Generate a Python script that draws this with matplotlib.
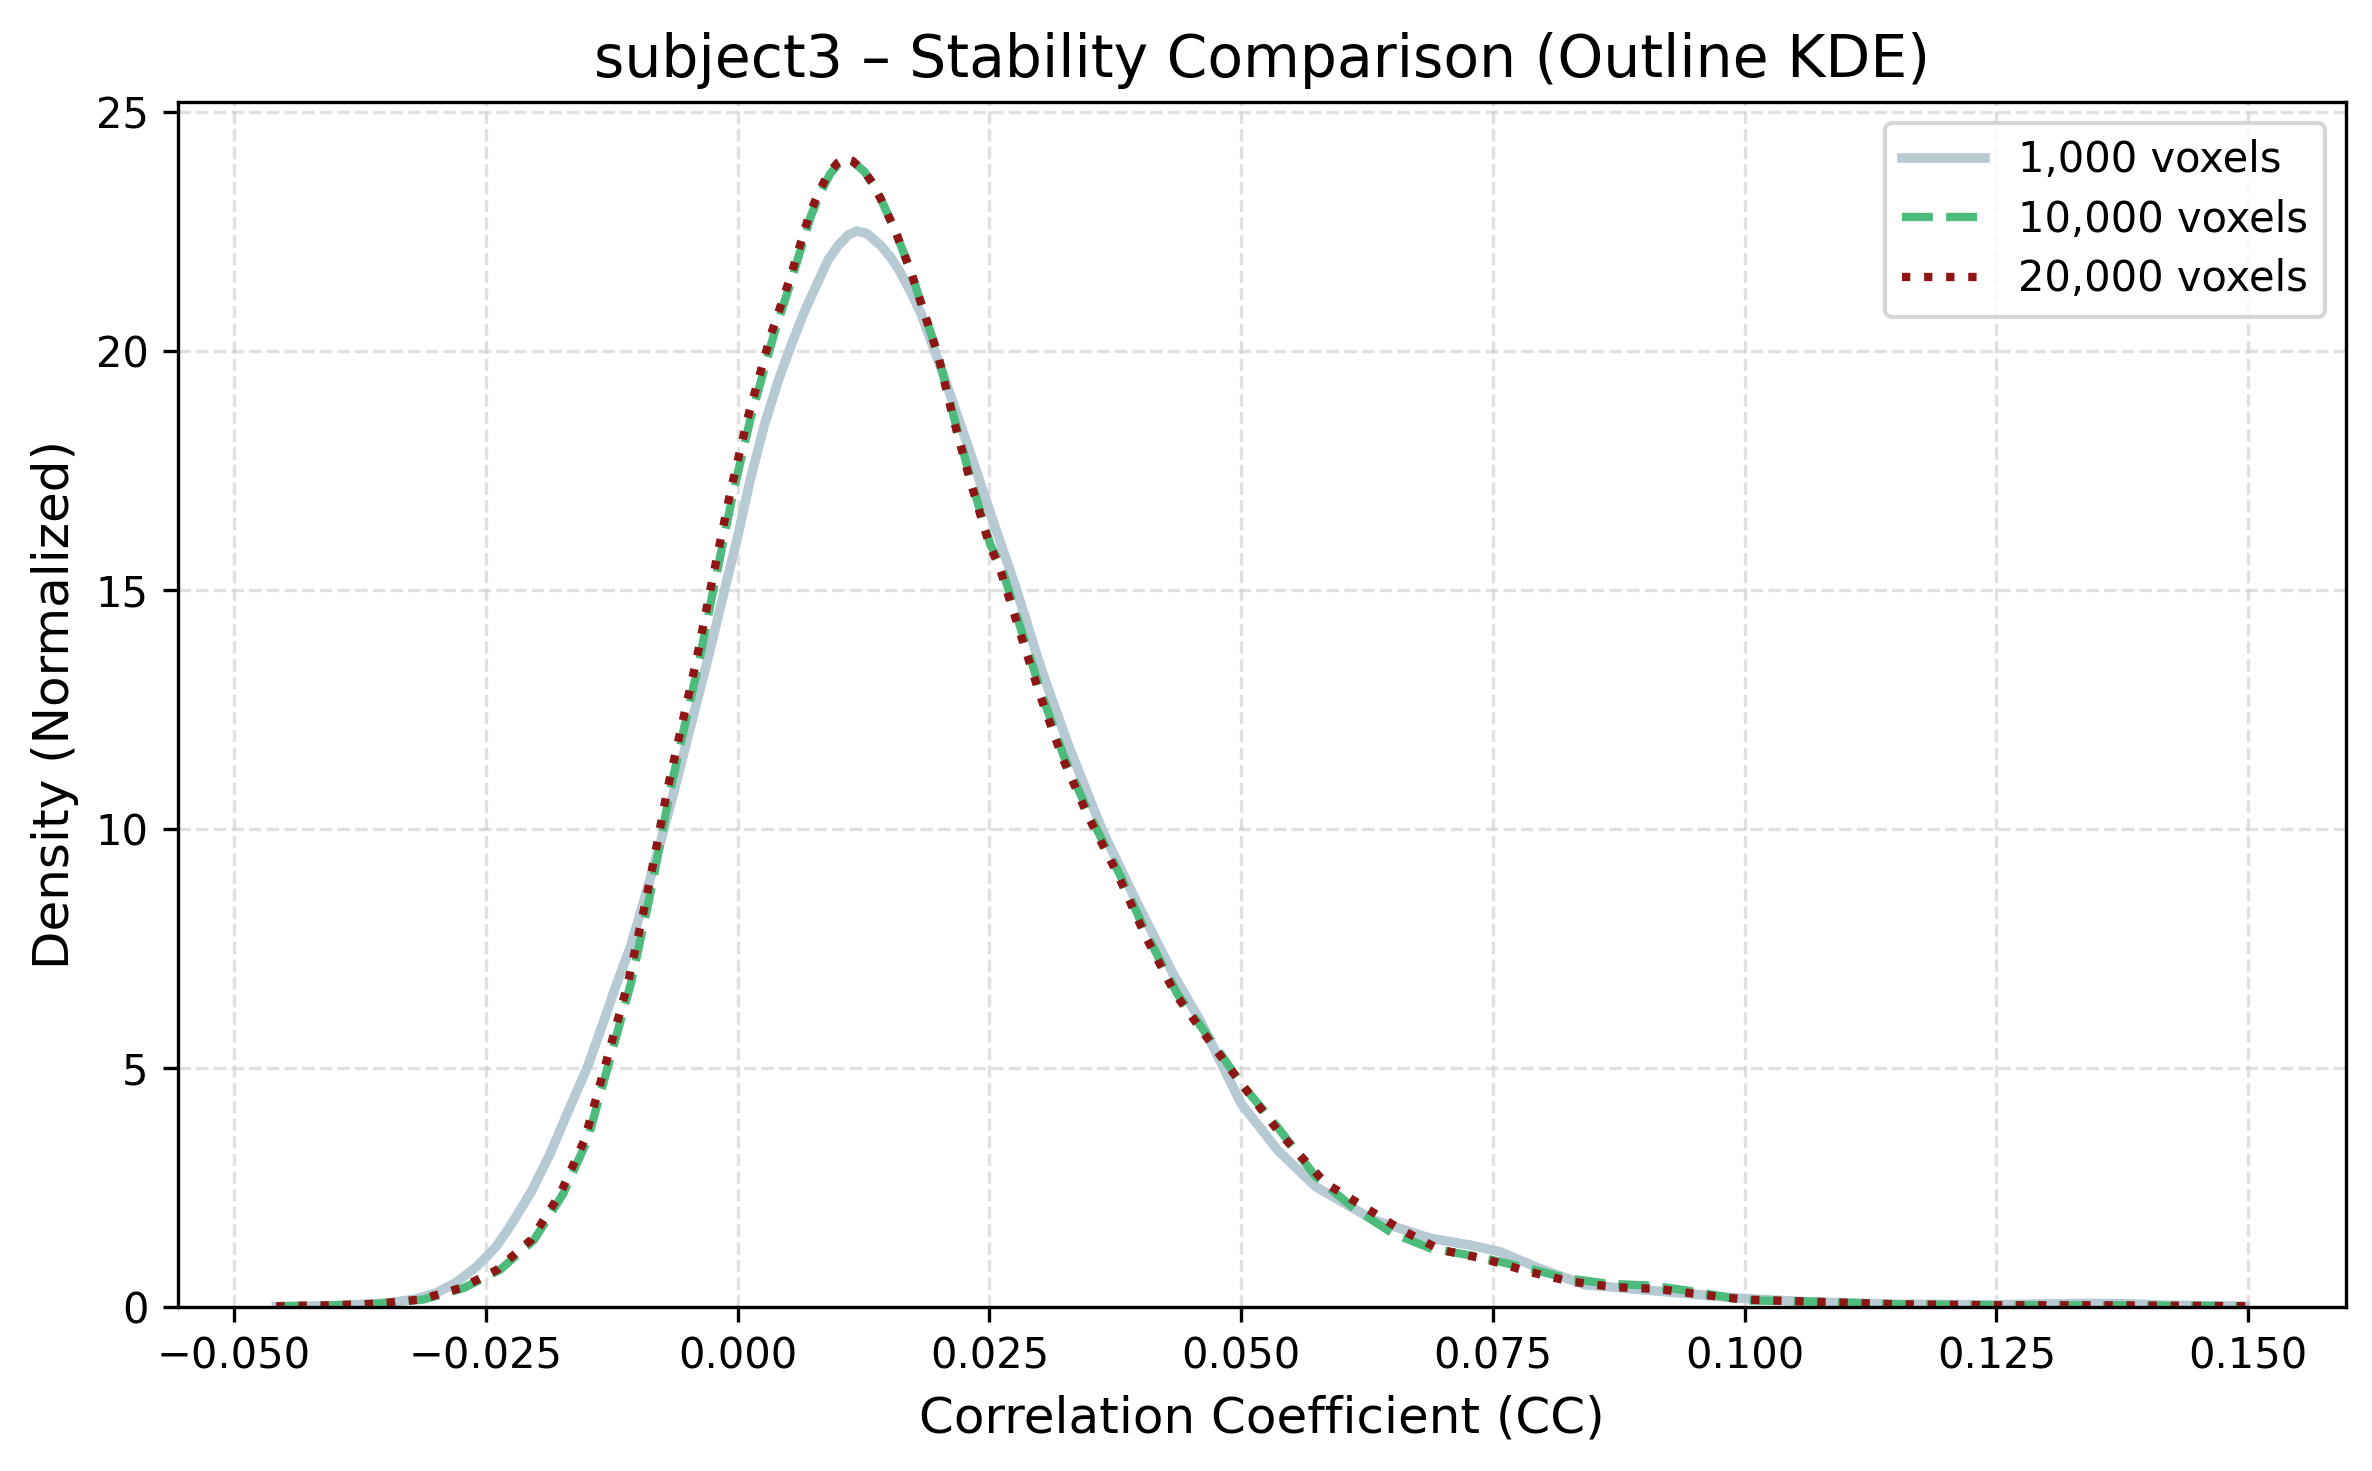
import numpy as np
import matplotlib
matplotlib.use("Agg")
import matplotlib.pyplot as plt

# densidade KDE (x = CC, y = densidade)
cc_1k = [-0.0458, -0.0400, -0.0345, -0.0320, -0.0299, -0.0280, -0.0259, -0.0240, -0.0226, -0.0205,
         -0.0186, -0.0168, -0.0149, -0.0135, -0.0120, -0.0106, -0.0093, -0.0077, -0.0063, -0.0047,
         -0.0030, -0.0014, 0.0000, 0.0012, 0.0026, 0.0040, 0.0053, 0.0066, 0.0079, 0.0090,
         0.0100, 0.0110, 0.0118, 0.0128, 0.0142, 0.0152, 0.0162, 0.0172, 0.0182, 0.0205,
         0.0228, 0.0255, 0.0277, 0.0301, 0.0328, 0.0362, 0.0397, 0.0434, 0.0460, 0.0480,
         0.0500, 0.0536, 0.0574, 0.0631, 0.0688, 0.0727, 0.0757, 0.0795, 0.0841, 0.0917,
         0.0993, 0.1054, 0.1150, 0.1250, 0.1300, 0.1340, 0.1380, 0.1420, 0.1497]
dens_1k = [0.00, 0.02, 0.08, 0.16, 0.29, 0.50, 0.84, 1.25, 1.68, 2.40,
           3.21, 4.10, 5.02, 5.85, 6.76, 7.55, 8.50, 9.68, 10.79, 12.11,
           13.51, 14.90, 16.10, 17.25, 18.40, 19.35, 20.10, 20.80, 21.40, 21.90,
           22.20, 22.42, 22.50, 22.45, 22.20, 21.95, 21.62, 21.22, 20.78, 19.45,
           18.05, 16.35, 15.00, 13.37, 11.77, 9.97, 8.43, 6.90, 5.96, 5.10,
           4.25, 3.28, 2.51, 1.82, 1.43, 1.29, 1.15, 0.81, 0.46, 0.32,
           0.18, 0.11, 0.05, 0.04, 0.06, 0.07, 0.06, 0.03, 0.01]

cc_10k = [-0.0458, -0.0400, -0.0358, -0.0312, -0.0272, -0.0236, -0.0202, -0.0173, -0.0149, -0.0126,
          -0.0106, -0.0088, -0.0077, -0.0067, -0.0053, -0.0038, -0.0025, -0.0004, 0.0013, 0.0036,
          0.0054, 0.0073, 0.0083, 0.0092, 0.0100, 0.0107, 0.0114, 0.0126, 0.0134, 0.0142,
          0.0157, 0.0172, 0.0185, 0.0199, 0.0215, 0.0232, 0.0251, 0.0262, 0.0282, 0.0302,
          0.0324, 0.0350, 0.0380, 0.0407, 0.0437, 0.0476, 0.0500, 0.0536, 0.0574, 0.0612,
          0.0650, 0.0688, 0.0734, 0.0784, 0.0822, 0.0864, 0.0909, 0.0955, 0.1000, 0.1047,
          0.1150, 0.1250, 0.1350, 0.1497]
dens_10k = [0.01, 0.03, 0.06, 0.15, 0.39, 0.77, 1.40, 2.37, 3.49, 5.23,
            6.76, 8.50, 9.68, 10.79, 12.11, 13.51, 14.90, 17.06, 18.59, 20.33,
            21.51, 22.83, 23.33, 23.70, 23.90, 24.00, 23.96, 23.74, 23.50, 23.18,
            22.48, 21.65, 20.81, 19.91, 18.59, 17.27, 15.94, 15.47, 14.13, 12.81,
            11.51, 10.26, 9.02, 7.75, 6.53, 5.40, 4.67, 3.76, 2.72, 2.06,
            1.54, 1.22, 1.05, 0.81, 0.60, 0.48, 0.44, 0.30, 0.13, 0.12,
            0.05, 0.03, 0.03, 0.01]

cc_20k = [-0.0458, -0.0400, -0.0360, -0.0315, -0.0275, -0.0239, -0.0205, -0.0176, -0.0152, -0.0129,
          -0.0109, -0.0091, -0.0080, -0.0070, -0.0056, -0.0041, -0.0028, -0.0007, 0.0010, 0.0033,
          0.0052, 0.0071, 0.0081, 0.0090, 0.0099, 0.0107, 0.0114, 0.0126, 0.0134, 0.0142,
          0.0157, 0.0172, 0.0185, 0.0199, 0.0214, 0.0231, 0.0250, 0.0260, 0.0280, 0.0300,
          0.0322, 0.0348, 0.0378, 0.0405, 0.0435, 0.0474, 0.0500, 0.0540, 0.0584, 0.0622,
          0.0658, 0.0698, 0.0742, 0.0784, 0.0826, 0.0870, 0.0914, 0.0958, 0.1000, 0.1044,
          0.1150, 0.1250, 0.1350, 0.1497]
dens_20k = [0.01, 0.03, 0.06, 0.15, 0.39, 0.77, 1.40, 2.37, 3.49, 5.23,
            6.76, 8.50, 9.68, 10.79, 12.11, 13.51, 14.90, 17.06, 18.59, 20.33,
            21.51, 22.83, 23.33, 23.70, 23.92, 24.02, 23.97, 23.74, 23.50, 23.18,
            22.48, 21.65, 20.81, 19.91, 18.59, 17.27, 15.94, 15.47, 14.13, 12.81,
            11.51, 10.26, 9.02, 7.75, 6.53, 5.40, 4.67, 3.59, 2.58, 2.09,
            1.62, 1.19, 1.00, 0.74, 0.53, 0.41, 0.37, 0.25, 0.15, 0.12,
            0.05, 0.03, 0.03, 0.01]

labels = ['1,000 voxels', '10,000 voxels', '20,000 voxels']

fig = plt.figure(figsize=(2372 / 300, 1471 / 300), dpi=300)
ax = fig.add_axes([0.0749, 0.1117, 0.9141, 0.8190])

ax.plot(cc_1k, dens_1k, color='#b7cad3', lw=2.3, ls='-', label=labels[0])
ax.plot(cc_10k, dens_10k, color='#4cbb7c', lw=2, ls='--', label=labels[1])
ax.plot(cc_20k, dens_20k, color='#8e1616', lw=2, ls=':', label=labels[2])

ax.set_xlim(-0.0556, 0.1597)
ax.set_ylim(0, 25.2)
ax.set_xticks(np.arange(-0.05, 0.1501, 0.025))
ax.grid(True, ls='--', color='#cccccc', alpha=0.6, lw=0.8)
ax.set_axisbelow(True)

ax.set_title('subject3 – Stability Comparison (Outline KDE)', fontsize=14)
ax.set_xlabel('Correlation Coefficient (CC)', fontsize=12)
ax.set_ylabel('Density (Normalized)', fontsize=12)
ax.legend(loc='upper right', fontsize=10, labelspacing=0.42)

fig.savefig('out.png', dpi=300)
